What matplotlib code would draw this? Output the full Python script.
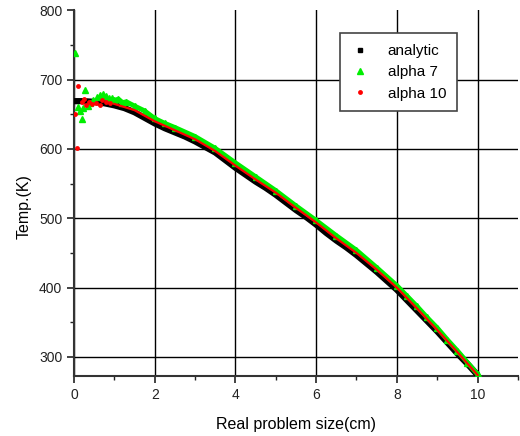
import numpy as np
import matplotlib.pyplot as plt
from matplotlib.lines import Line2D

plt.rcParams['font.family'] = ['Liberation Sans', 'DejaVu Sans']

# analytic solution
x_an = [0, 0.25, 0.5, 0.75, 1.0, 1.25, 1.5, 1.75, 2.0, 2.25, 2.5, 2.75, 3.0, 3.25, 3.5, 3.75, 4.0,
        4.25, 4.5, 4.75, 5.0, 5.25, 5.5, 5.75, 6.0, 6.25, 6.5, 6.75, 7.0, 7.25, 7.5, 7.75, 8.0,
        8.25, 8.5, 8.75, 9.0, 9.25, 9.5, 9.75, 10.0]
t_an = [669, 669, 668, 666, 663, 659, 653, 645, 637, 630, 624, 618, 611, 603, 595, 584, 573,
        563, 553, 544, 534, 523, 512, 502, 491, 479, 468, 458, 447, 435, 423, 410, 397,
        382, 367, 352, 337, 321, 305, 290, 274]

# alpha 7, noisy start then smooth part
x_a7_noise = [0.03, 0.09, 0.14, 0.19, 0.23, 0.27, 0.35, 0.40, 0.48, 0.56, 0.64, 0.73, 0.80, 0.86, 0.93]
t_a7_noise = [739, 660, 655, 643, 659, 685, 662, 667, 670, 675, 678, 680, 676, 673, 674]
x_a7 = [1.0, 1.1, 1.2, 1.3, 1.5, 1.75, 2.0, 2.25, 2.5, 3.0, 3.5, 4.0, 4.5, 5.0, 5.5, 6.0, 6.5, 7.0, 7.5,
        8.0, 8.25, 8.5, 8.75, 9.0, 9.25, 9.5, 9.75, 10.0]
t_a7 = [670, 672, 667, 668, 662, 655, 644, 637, 631, 618, 601, 580, 560, 540, 518, 497, 475, 454, 429,
        403, 388, 373, 357, 342, 325, 309, 292, 275]

# alpha 10
x_a10_noise = [0.03, 0.08, 0.10, 0.20, 0.25, 0.30, 0.38, 0.45, 0.55, 0.64, 0.70, 0.80, 0.90]
t_a10_noise = [651, 601, 691, 668, 672, 663, 668, 665, 667, 663, 671, 668, 667]
x_a10 = [1.0, 1.5, 2.0, 2.5, 3.0, 3.5, 4.0, 4.5, 5.0, 5.5, 6.0, 6.5, 7.0, 7.5, 8.0, 8.5, 9.0, 9.5, 10.0]
t_a10 = [665, 656, 640, 627, 614, 597, 576, 556, 537, 515, 494, 471, 450, 426, 400, 370, 339, 307, 274]

fig = plt.figure(figsize=(5.2, 4.36), dpi=100)
ax = fig.add_axes([0.1423, 0.1383, 0.8537, 0.8380])

# analytic: dense black band
ax.plot(x_an, t_an, color='black', lw=4.5, solid_capstyle='butt', zorder=3)
# alpha 7
ax.plot(x_a7, t_a7, color='#00ee00', lw=3.5, zorder=4)
ax.plot(x_a7, t_a7, ls='none', marker='^', ms=4, color='#00ee00', zorder=4)
ax.plot(x_a7_noise, t_a7_noise, ls='none', marker='^', ms=4.5, color='#00ee00', zorder=4)
# alpha 10
ax.plot(x_a10, t_a10, color='#ff0000', lw=1.6, zorder=5)
ax.plot(x_a10_noise, t_a10_noise, ls='none', marker='o', ms=3.5, color='#ff0000', mew=0, zorder=5)

ax.set_xlim(0, 11)
ax.set_ylim(273, 800)
ax.set_xticks([0, 2, 4, 6, 8, 10])
ax.set_xticks([1, 3, 5, 7, 9, 11], minor=True)
ax.set_yticks([300, 400, 500, 600, 700, 800])
ax.set_yticks([350, 450, 550, 650, 750], minor=True)

ax.grid(True, which='major', color='black', lw=1)
ax.yaxis.get_gridlines()[-1].set_visible(False)

for s in ['top', 'right']:
    ax.spines[s].set_visible(False)
for s in ['left', 'bottom']:
    ax.spines[s].set_color('#333333')
    ax.spines[s].set_linewidth(1.5)

ax.tick_params(which='major', length=5, width=1.2, labelsize=10, colors='#222222')
ax.tick_params(which='minor', length=3, width=1.0, colors='#222222')

ax.set_xlabel('Real problem size(cm)', fontsize=11.5, labelpad=11)
ax.set_ylabel('Temp.(K)', fontsize=11.5)
ax.yaxis.set_label_coords(-0.095, 0.464)

handles = [
    Line2D([], [], ls='none', marker='s', ms=3.5, color='black'),
    Line2D([], [], ls='none', marker='^', ms=4, color='#00ee00'),
    Line2D([], [], ls='none', marker='o', ms=3.5, mew=0, color='#ff0000'),
]
leg = ax.legend(handles, ['analytic', 'alpha 7', 'alpha 10'], loc='upper left',
                bbox_to_anchor=(0.600, 0.937), borderaxespad=0, fontsize=11,
                fancybox=False, framealpha=1, edgecolor='#444444',
                handlelength=1.2, handletextpad=1.2, borderpad=0.7, labelspacing=0.48)
leg.get_frame().set_linewidth(1.2)

plt.savefig('out.png', dpi=100)
